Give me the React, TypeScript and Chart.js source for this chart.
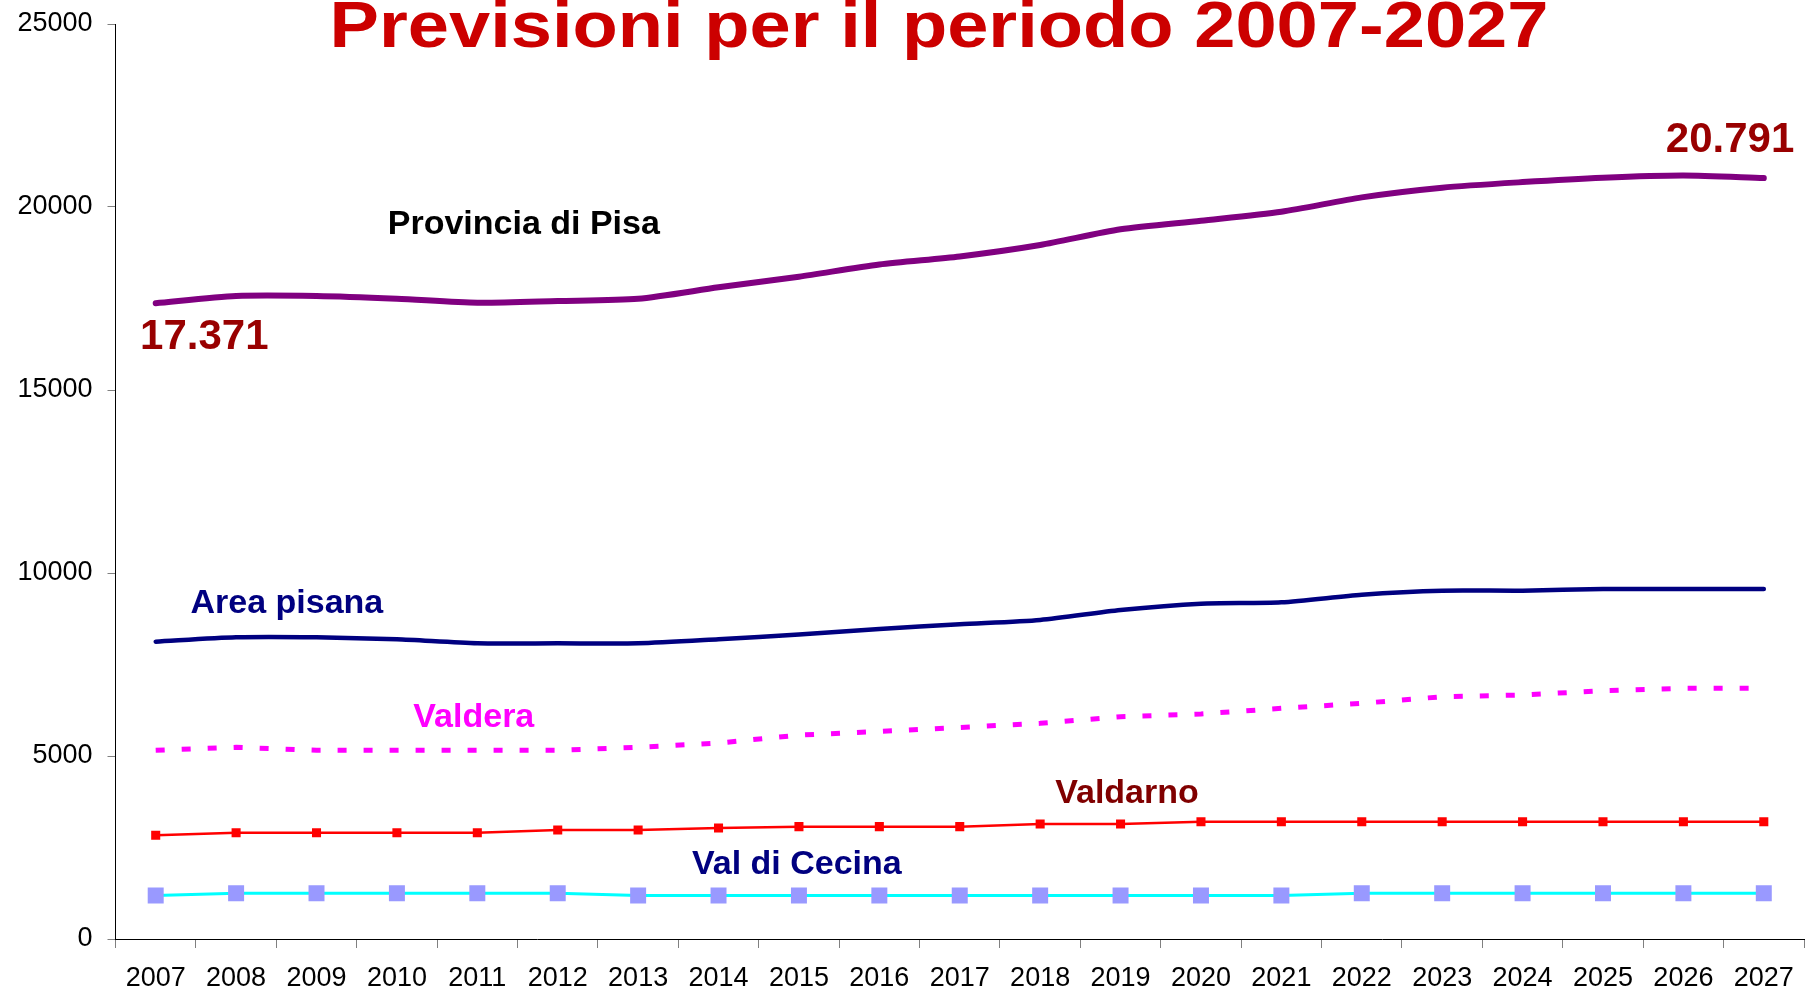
import React, { useEffect, useRef } from 'react';
import { Chart, registerables } from 'chart.js';

Chart.register(...registerables);

// ---- data ----
const years = ['2007', '2008', '2009', '2010', '2011', '2012', '2013', '2014', '2015', '2016', '2017',
  '2018', '2019', '2020', '2021', '2022', '2023', '2024', '2025', '2026', '2027'];

const provinciaPisa = [17371, 17568, 17568, 17494, 17385, 17432, 17494, 17806, 18095, 18430, 18650,
  18962, 19390, 19625, 19872, 20263, 20527, 20680, 20800, 20860, 20791];

const areaPisana = [8123, 8243, 8243, 8188, 8079, 8079, 8079, 8190, 8320, 8470, 8600,
  8716, 8989, 9162, 9199, 9407, 9517, 9517, 9563, 9563, 9563];

const valdera = [5156, 5238, 5156, 5156, 5156, 5156, 5238, 5355, 5570, 5670, 5780,
  5893, 6074, 6148, 6303, 6440, 6620, 6667, 6784, 6850, 6850];

const valdarno = [2833, 2904, 2904, 2904, 2904, 2978, 2978, 3033, 3070, 3070, 3070,
  3142, 3142, 3206, 3206, 3206, 3206, 3206, 3206, 3206, 3206];

const valDiCecina = [1190, 1250, 1250, 1250, 1250, 1250, 1190, 1190, 1190, 1190, 1190,
  1190, 1190, 1190, 1190, 1250, 1250, 1250, 1250, 1250, 1250];

const yTickValues = [0, 5000, 10000, 15000, 20000, 25000];

const titleText = 'Previsioni per il periodo 2007-2027';

// text annotations anchored in data space (category index, value at baseline)
const labelTexts = ['Provincia di Pisa', '17.371', '20.791', 'Area pisana', 'Valdera', 'Valdarno', 'Val di Cecina'];
const labelIndex = [4.578, 0.604, 19.58, 1.631, 3.956, 12.08, 7.974];
const labelValue = [19262, 16120, 21511, 8899, 5784, 3708, 1776];
const labelColors = ['#000000', '#990000', '#990000', '#000080', '#FF00FF', '#800000', '#000080'];
const labelSizes = [34, 42, 42, 34, 34, 34, 34];

const FONT = '"Liberation Sans", Arial, Helvetica, sans-serif';

const annotationPlugin = {
  id: 'annotationPlugin',
  afterDatasetsDraw(chart: any) {
    const { ctx } = chart;
    const xs = chart.scales.x;
    const ys = chart.scales.y;
    ctx.save();
    ctx.textAlign = 'center';
    ctx.textBaseline = 'alphabetic';
    for (let i = 0; i < labelTexts.length; i++) {
      ctx.font = `bold ${labelSizes[i]}px ${FONT}`;
      ctx.fillStyle = labelColors[i];
      const px = xs.getPixelForValue(labelIndex[i]);
      const py = ys.getPixelForValue(labelValue[i]);
      ctx.fillText(labelTexts[i], px, py);
    }
    // title
    ctx.font = `bold 65px ${FONT}`;
    ctx.fillStyle = '#CC0000';
    ctx.translate(939, 47);
    ctx.scale(1.14, 1);
    ctx.fillText(titleText, 0, 0);
    ctx.restore();
  },
};

const zeroPadding = (scale: any) => {
  scale.paddingTop = 0;
  scale.paddingBottom = 0;
  scale.paddingLeft = 0;
  scale.paddingRight = 0;
};

export default function App() {
  const canvasRef = useRef<HTMLCanvasElement | null>(null);

  useEffect(() => {
    const canvas = canvasRef.current;
    if (!canvas) return;
    const chart = new Chart(canvas, {
      type: 'line',
      data: {
        labels: years,
        datasets: [
          {
            label: 'Provincia di Pisa',
            data: provinciaPisa,
            borderColor: '#800080',
            borderWidth: 6,
            tension: 0.25,
            borderCapStyle: 'round',
            borderJoinStyle: 'round',
            pointRadius: 0,
          },
          {
            label: 'Area pisana',
            data: areaPisana,
            borderColor: '#000080',
            borderWidth: 4.5,
            tension: 0.25,
            borderCapStyle: 'round',
            borderJoinStyle: 'round',
            pointRadius: 0,
          },
          {
            label: 'Valdera',
            data: valdera,
            borderColor: '#FF00FF',
            borderWidth: 5,
            borderDash: [9, 17],
            borderCapStyle: 'butt',
            tension: 0,
            pointRadius: 0,
          },
          {
            label: 'Valdarno',
            data: valdarno,
            borderColor: '#FF0000',
            borderWidth: 2.5,
            tension: 0,
            pointStyle: 'rect',
            pointRadius: 6.4,
            pointBackgroundColor: '#FF0000',
            pointBorderColor: '#FF0000',
            pointBorderWidth: 0,
          },
          {
            label: 'Val di Cecina',
            data: valDiCecina,
            borderColor: '#00FFFF',
            borderWidth: 3,
            tension: 0,
            pointStyle: 'rect',
            pointRadius: 11.3,
            pointBackgroundColor: '#9999FF',
            pointBorderColor: '#9999FF',
            pointBorderWidth: 0,
          },
        ],
      },
      options: {
        animation: false,
        responsive: false,
        devicePixelRatio: 1,
        layout: { autoPadding: false, padding: { top: 24, right: 8, left: 0, bottom: 0 } },
        plugins: {
          legend: { display: false },
          tooltip: { enabled: false },
          title: { display: false },
        },
        scales: {
          x: {
            type: 'category',
            offset: true,
            grid: {
              offset: true,
              drawOnChartArea: false,
              drawTicks: true,
              tickLength: 9,
              color: '#808080',
            },
            border: { display: true, color: '#000000', width: 1 },
            ticks: {
              color: '#000000',
              font: { family: FONT, size: 27 },
              padding: 14,
              maxRotation: 0,
              autoSkip: false,
            },
            afterFit: (scale: any) => { scale.height = 55; zeroPadding(scale); },
          },
          y: {
            min: 0,
            max: 25000,
            afterBuildTicks: (scale: any) => { scale.ticks = yTickValues.map((v) => ({ value: v })); },
            grid: {
              drawOnChartArea: false,
              drawTicks: true,
              tickLength: 8,
              color: '#808080',
            },
            border: { display: true, color: '#000000', width: 1 },
            ticks: {
              color: '#000000',
              font: { family: FONT, size: 27 },
              padding: 15,
              callback: (v: any) => String(v),
            },
            afterFit: (scale: any) => { scale.width = 115.5; zeroPadding(scale); },
          },
        },
      },
      plugins: [annotationPlugin],
    });
    return () => chart.destroy();
  }, []);

  return (
    <div style={{ position: 'absolute', left: 0, top: 0, width: 1812, height: 994, background: '#ffffff' }}>
      <canvas ref={canvasRef} width={1812} height={994} style={{ display: 'block', width: 1812, height: 994 }} />
    </div>
  );
}
